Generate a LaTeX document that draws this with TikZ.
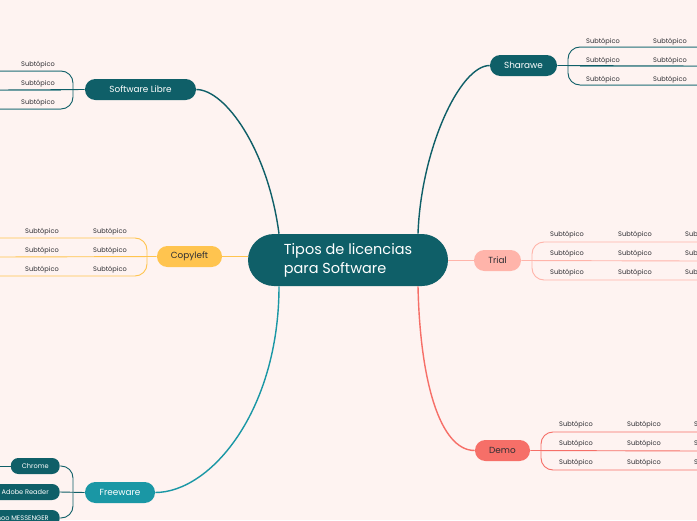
\documentclass[tikz,border=0pt]{standalone}
\usepackage{fontspec}
\setmainfont{Poppins}
\usetikzlibrary{calc}
\definecolor{paper}{HTML}{FEF3F1}
\definecolor{petrol}{HTML}{0F5F68}
\definecolor{sun}{HTML}{FFC44F}
\definecolor{blush}{HTML}{FFB4AA}
\definecolor{coral}{HTML}{F66F68}
\definecolor{lagoon}{HTML}{1A97A5}
\definecolor{ink}{HTML}{2E2E33}
\tikzset{
  topic/.style={rounded corners=2.6mm,minimum height=5.25mm,inner sep=0pt,font=\fontsize{6.3}{7}\selectfont},
  subtopic/.style={font=\fontsize{4.7}{5}\selectfont,text=ink,inner sep=0pt,yshift=-0.5mm},
  leaf/.style={fill=petrol,text=white,rounded corners=1.9mm,minimum height=4mm,inner xsep=2.75mm,inner ysep=0pt,
    font=\fontsize{4.7}{5}\selectfont,anchor=east},
  stem/.style={line width=1pt},
  twig/.style={line width=0.65pt,rounded corners=3mm},
}

\begin{document}
\begin{tikzpicture}[x=0.25mm,y=-0.25mm]
    \useasboundingbox (0,0) rectangle (697,520);
    \fill[paper] (0,0) rectangle (697,520);
    \clip (0,0) rectangle (697,520);
    % central topic and main branches
    \node[fill=petrol,text=white,rounded corners=6.5mm,minimum width=50mm,minimum height=13mm,align=left,
      font=\fontsize{10.3}{13.5}\selectfont] (ctr) at (348,260) {Tipos de licencias\\para Software};
    \node[topic,fill=petrol,text=white,minimum width=27.75mm] (sl) at (140.5,89.5) {Software Libre};
    \node[topic,fill=petrol,text=white,minimum width=16.75mm] (sh) at (523.5,65.5) {Sharawe};
    \node[topic,fill=sun,text=ink,minimum width=16.25mm] (cl) at (189.5,256.5) {Copyleft};
    \node[topic,fill=blush,text=ink,minimum width=11.75mm] (tr) at (497.5,260.5) {Trial};
    \node[topic,fill=coral,text=ink,minimum width=13.75mm] (dm) at (502.5,450.5) {Demo};
    \node[topic,fill=lagoon,text=white,minimum width=17.5mm] (fw) at (120,492.5) {Freeware};
    \draw[stem,petrol] ([xshift=-17.25mm]ctr.north) .. controls +(-11,-84) and +(29,0) .. (sl.east);
    \draw[stem,petrol] ([xshift=17.5mm]ctr.north) .. controls +(3,-84) and +(-30,0) .. (sh.west);
    \draw[stem,sun] (cl.east) -- (cl.east -| ctr.west);
    \draw[stem,blush] (tr.west) -- (tr.west -| ctr.east);
    \draw[stem,coral] ([xshift=17.5mm]ctr.south) .. controls +(2,94) and +(-35,0) .. (dm.west);
    \draw[stem,lagoon] ([xshift=-17.25mm]ctr.south) .. controls +(0,125) and +(55,0) .. (fw.east);
    % left side subtopics
    \draw[twig,petrol] (0,71) -- (73,71) -- (73,109) -- (0,109);
    \draw[twig,petrol] (sl.west) -- (0,90);
    \foreach \y in {71,90,109} \draw[line width=0.65pt,petrol!60] (0,\y) -- (61,\y);
    \foreach \y in {63,82,101} \node[subtopic] (sl-\y) at (38,\y) {Subtópico};
    \draw[twig,sun] (0,238) -- (147,238) -- (147,276) -- (0,276);
    \draw[twig,sun] (cl.west) -- (0,257);
    \foreach \y in {230,249,268}
      \foreach \x in {42,110} \node[subtopic] (cl-\x-\y) at (\x,\y) {Subtópico};
    % freeware programs
    \node[leaf] (chr) at (60,466) {Chrome};
    \node[leaf] (adr) at (60,492) {Adobe Reader};
    \node[leaf] (ymsg) at (60,518) {Yahoo MESSENGER};
    \draw[twig,petrol] (chr.east) -- (73,466) -- (73,518) -- (ymsg.east);
    \draw[twig,petrol] (adr.east) -- (fw.west);
    \foreach \n in {chr,adr,ymsg} \draw[line width=0.65pt,petrol] (\n.west) -- (\n.west -| -40,0);
    % right side subtopics
    \draw[twig,petrol] (697,47) -- (568,47) -- (568,85) -- (697,85);
    \draw[twig,petrol] (sh.east) -- (697,66);
    \foreach \y in {47,66,85} \draw[line width=0.65pt,petrol!60] (580,\y) -- (697,\y);
    \foreach \y in {40,59,78}
      \foreach \x in {603,670} \node[subtopic] (sh-\x-\y) at (\x,\y) {Subtópico};
    \draw[twig,blush] (697,242) -- (532,242) -- (532,280) -- (697,280);
    \draw[twig,blush] (tr.east) -- (697,261);
    \foreach \y in {233,252,271}
      \foreach \x in {567,635,702} \node[subtopic] (tr-\x-\y) at (\x,\y) {Subtópico};
    \draw[twig,coral] (697,432) -- (541,432) -- (541,470) -- (697,470);
    \draw[twig,coral] (dm.east) -- (697,451);
    \foreach \y in {423,442,461}
      \foreach \x in {576,644,711} \node[subtopic] (dm-\x-\y) at (\x,\y) {Subtópico};
\end{tikzpicture}
\end{document}
